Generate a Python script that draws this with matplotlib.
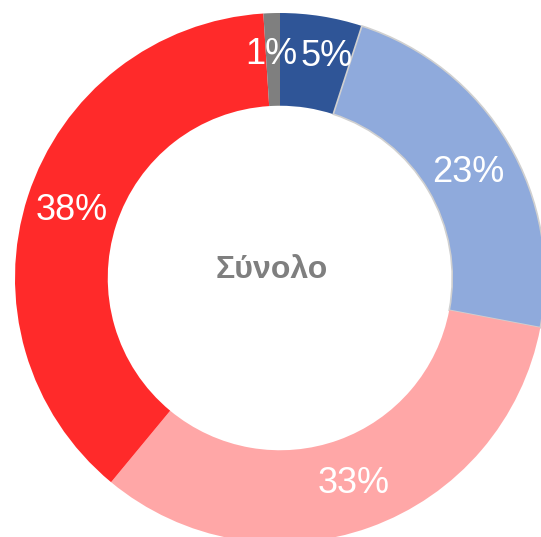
import numpy as np
import matplotlib
matplotlib.use("Agg")
import matplotlib.pyplot as plt

plt.rcParams['font.family'] = ['Liberation Sans', 'DejaVu Sans']

# data
labels = ['A', 'B', 'C', 'D', 'E']
values = [5, 23, 33, 38, 1]
colors = ['#2F5597', '#8FAADC', '#FFA7A7', '#FF2A2A', '#7F7F7F']
center_label = 'Σύνολο'

fig = plt.figure(figsize=(5.41, 5.37), dpi=100)
ax = fig.add_axes([0, 0, 1, 1])

wedges, _ = ax.pie(values, colors=colors, startangle=90, counterclock=False,
                   radius=1.0, wedgeprops=dict(width=0.35, linewidth=0))
# light blue slice has a thin grey outline
wedges[1].set_edgecolor('#D0D0D0')
wedges[1].set_linewidth(1.2)

# percentage labels at the middle of the ring (small labels pushed apart)
total = sum(values)
r_lab = 0.825
nudge = {0: (0.045, 0.02), 4: (-0.008, 0.02), 1: (0.0, -0.02)}
cum = 0
for i, v in enumerate(values):
    mid = (cum + v / 2) / total
    ang = np.deg2rad(90 - 360 * mid)
    dx, dy = nudge.get(i, (0, 0))
    x = r_lab * np.cos(ang) + dx
    y = r_lab * np.sin(ang) + dy
    ax.text(x, y, f'{v}%', ha='center', va='center', color='white',
            fontsize=26)
    cum += v

ax.text(-0.03, 0.03, center_label, ha='center', va='center', color='#7F7F7F',
        fontsize=23, fontweight='bold')

ax.set_aspect('auto')
s = 265.0
ax.set_xlim(-280 / s, (541 - 280) / s)
ax.set_ylim(-(537 - 278) / s, 278 / s)
ax.axis('off')

fig.savefig('out.png', dpi=100)
